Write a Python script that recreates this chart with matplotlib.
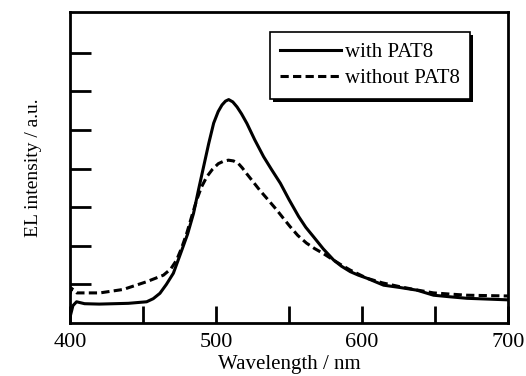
import matplotlib
matplotlib.use("Agg")
import matplotlib.pyplot as plt
import numpy as np
from matplotlib.patches import Rectangle

plt.rcParams['font.family'] = ['Liberation Serif', 'DejaVu Serif']

# data
wl_with = [400, 402, 404.5, 410, 420, 430, 440, 452.5, 457, 461.6, 466, 470.8, 476.6, 480.5,
           484.6, 488, 491.5, 495, 498.4, 501.5, 504.1, 506.5, 508.7, 511.5, 514.4, 517.5,
           521.2, 526.5, 532.6, 538, 544.1, 550, 556.6, 561.5, 566.9, 573.5, 580.6, 586,
           592, 597.5, 603.4, 614.8, 626, 637.7, 649, 660, 671.9, 686, 700]
int_with = [0.15, 0.45, 0.55, 0.5, 0.49, 0.5, 0.51, 0.55, 0.63, 0.77, 1.0, 1.29, 1.89, 2.3,
            2.84, 3.45, 4.05, 4.65, 5.18, 5.48, 5.65, 5.75, 5.79, 5.73, 5.6, 5.42,
            5.17, 4.75, 4.31, 3.98, 3.62, 3.2, 2.76, 2.48, 2.23, 1.92, 1.63, 1.47,
            1.33, 1.24, 1.16, 0.98, 0.92, 0.85, 0.72, 0.68, 0.64, 0.62, 0.6]

wl_without = [400, 401, 404.6, 420.5, 436.5, 452.5, 464, 469, 473, 476.5, 480, 483.5, 486.8,
              490, 493.7, 497.5, 501.6, 505, 508.5, 512, 515.4, 518, 521, 525, 530, 535.5,
              541.6, 546, 550.7, 556, 562, 567.5, 573.5, 580.5, 586, 592, 603.4,
              614, 626, 637, 649, 660, 672, 686, 700]
int_without = [0.75, 0.9, 0.78, 0.78, 0.87, 1.07, 1.24, 1.4, 1.63, 1.95, 2.33, 2.78, 3.19,
               3.52, 3.79, 3.98, 4.13, 4.19, 4.22, 4.2, 4.13, 4.02, 3.87, 3.68, 3.44, 3.2,
               2.93, 2.72, 2.5, 2.27, 2.07, 1.93, 1.8, 1.63, 1.5, 1.37, 1.16,
               1.04, 0.94, 0.86, 0.78, 0.75, 0.72, 0.71, 0.7]

x_ticks = [400, 500, 600, 700]
x_minor = [450, 550, 650]
y_ticks = [1, 2, 3, 4, 5, 6, 7]

fig = plt.figure(figsize=(5.26, 3.76), dpi=100)
ax = fig.add_axes([70/526, 1 - 323/376, (508-70)/526, (323-12)/376])

ax.plot(wl_with, int_with, color='black', lw=2.2, solid_joinstyle='round', label='with PAT8')
ax.plot(wl_without, int_without, color='black', lw=2.2, linestyle=(0, (2.7, 1.4)),
        label='without PAT8')

ax.set_xlim(400, 700)
ax.set_ylim(0, 8.06)
ax.set_xticks(x_ticks)
ax.set_xticks(x_minor, minor=True)
ax.set_yticks(y_ticks)
ax.set_yticklabels([])
ax.tick_params(axis='x', which='both', direction='in', length=12, width=2, labelsize=16, pad=7)
ax.tick_params(axis='y', direction='in', length=15, width=2)
for s in ax.spines.values():
    s.set_linewidth(2)

ax.set_xlabel('Wavelength / nm', fontsize=15, labelpad=2)
ax.set_ylabel('EL intensity / a.u.', fontsize=14, labelpad=17)

leg = ax.legend(loc='upper right', fontsize=15, frameon=True, fancybox=False, shadow=False,
                handlelength=2.9, handletextpad=0.2, borderpad=0.5, labelspacing=0.32,
                edgecolor='black', borderaxespad=0)
leg.set_bbox_to_anchor((470/526, 1 - 32/376), transform=fig.transFigure)
leg.get_frame().set_linewidth(1.2)
leg.get_frame().set_alpha(1)
leg.set_zorder(6)

fig.canvas.draw()
bb = leg.get_window_extent()
inv = fig.transFigure.inverted()
x0, y0 = inv.transform((bb.x0, bb.y0))
x1, y1 = inv.transform((bb.x1, bb.y1))
sh = Rectangle((x0 + 3/526, y0 - 3/376), x1 - x0, y1 - y0, transform=fig.transFigure,
               facecolor='black', edgecolor='none', zorder=5)
ax.add_patch(sh)
sh.set_clip_on(False)

fig.savefig('out.png', dpi=100)
